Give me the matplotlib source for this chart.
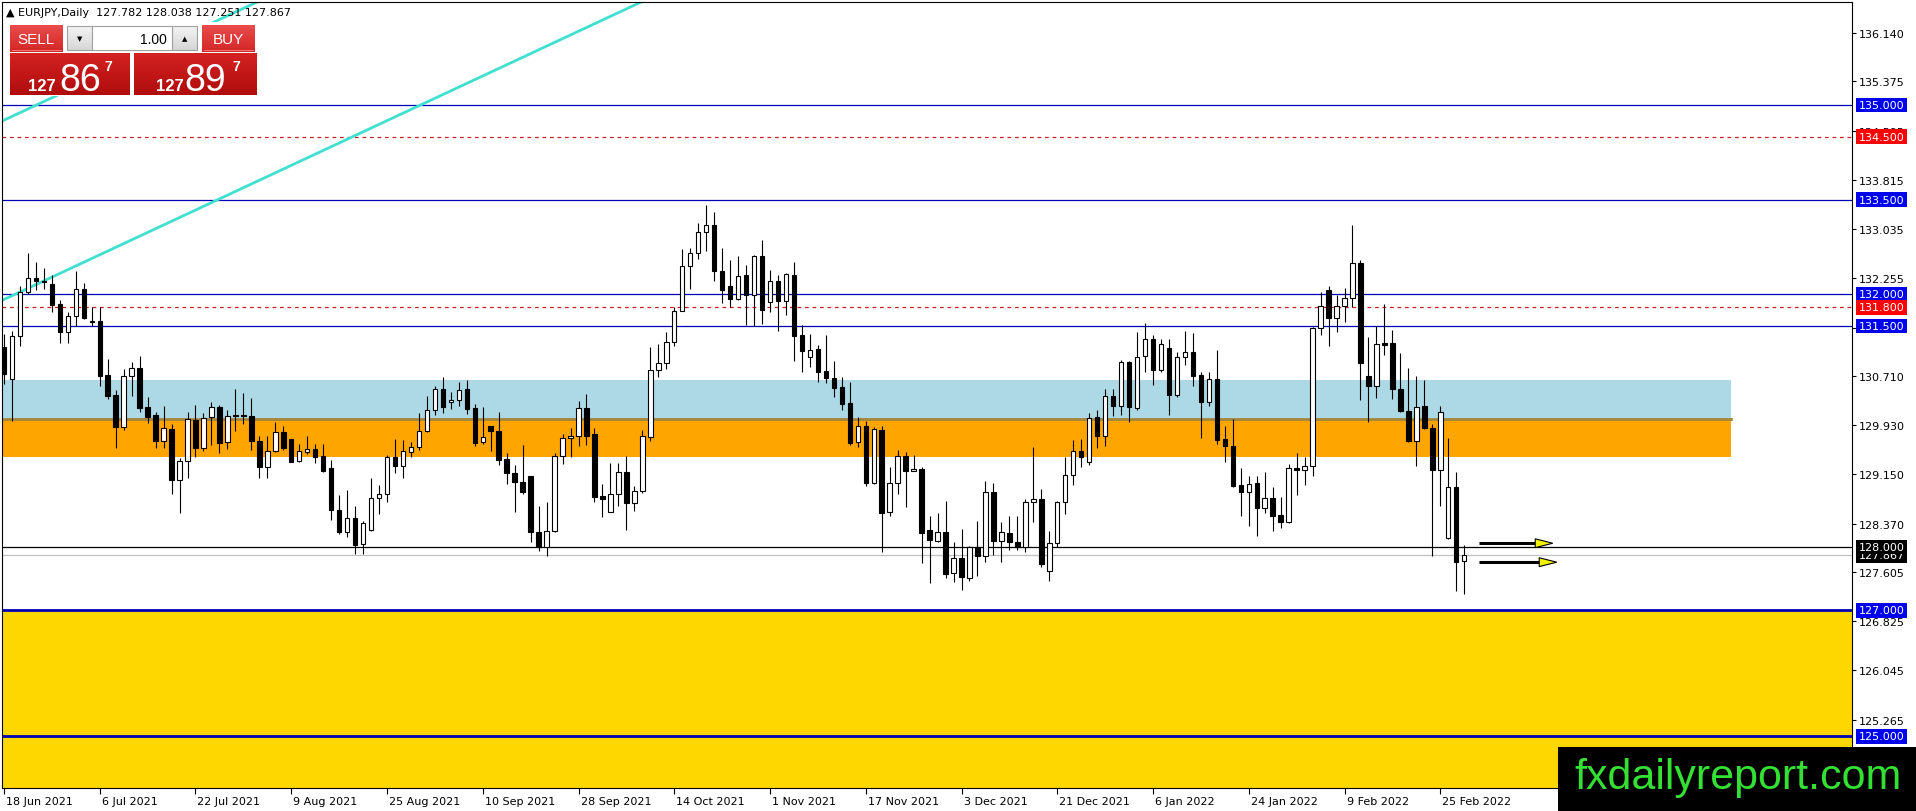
import numpy as np
import matplotlib.pyplot as plt
import matplotlib.transforms as mtransforms
from matplotlib import font_manager
from matplotlib.colors import LinearSegmentedColormap
from matplotlib.patches import Rectangle, Polygon

# daily EURJPY bars, bar 0 = 18 Jun 2021, last bar = 2 Mar 2022
opens = [131.163, 130.661, 131.337, 132.044, 132.255, 132.192, 132.160, 131.843, 131.400, 131.664,
         132.081, 131.580, 131.574, 130.725, 130.408, 129.907, 130.703, 130.830, 130.213, 130.086,
         129.674, 129.864, 129.067, 129.358, 130.012, 129.574, 130.054, 130.213, 129.658, 130.091,
         130.091, 130.075, 129.674, 129.273, 129.516, 129.822, 129.706, 129.358, 129.500, 129.548,
         129.437, 129.247, 128.582, 128.244, 128.455, 128.043, 128.276, 128.772, 128.835, 129.421,
         129.289, 129.500, 129.579, 129.833, 130.170, 130.503, 130.292, 130.329, 130.503, 130.197,
         129.659, 129.912, 129.838, 129.395, 129.168, 129.025, 129.125, 128.233, 127.996, 128.255,
         129.442, 129.732, 129.754, 130.197, 129.785, 128.803, 128.550, 128.840, 129.184, 128.693,
         128.883, 129.738, 130.809, 130.915, 131.242, 131.743, 132.450, 132.651, 132.984, 133.105,
         132.366, 132.128, 131.923, 132.308, 131.991, 132.609, 131.875, 132.218, 131.891, 132.308,
         131.358, 131.015, 131.136, 130.788, 130.672, 130.529, 130.276, 129.658, 129.912, 129.014,
         129.854, 128.561, 129.009, 129.437, 129.199, 129.231, 128.265, 128.101, 128.233, 127.584,
         127.822, 127.505, 127.996, 127.864, 128.867, 128.101, 128.218, 128.075, 127.996, 128.708,
         128.761, 127.616, 128.059, 128.708, 129.146, 129.516, 129.352, 130.054, 129.764, 130.397,
         130.239, 130.925, 130.207, 131.025, 131.289, 130.809, 131.147, 130.413, 131.004, 131.084,
         130.725, 130.292, 130.656, 129.711, 129.595, 128.983, 128.866, 129.009, 128.613, 128.772,
         128.508, 128.392, 129.247, 129.215, 129.289, 131.463, 132.070, 131.622, 131.822, 131.938,
         132.493, 130.704, 130.556, 131.226, 131.226, 130.498, 130.160, 129.685, 130.228, 129.891,
         129.226, 128.138, 128.946, 127.782]
highs = [131.374, 131.427, 132.139, 132.656, 132.519, 132.414, 132.308, 131.912, 131.717, 132.371,
         132.181, 131.796, 131.796, 130.978, 130.487, 130.820, 130.936, 131.020, 130.371, 130.134,
         130.239, 129.943, 129.416, 130.134, 130.250, 130.123, 130.292, 130.250, 130.176, 130.503,
         130.440, 130.355, 129.764, 129.753, 129.975, 129.912, 129.711, 129.627, 129.753, 129.637,
         129.637, 129.384, 128.825, 128.909, 128.656, 128.418, 129.088, 128.983, 129.463, 129.711,
         129.695, 129.669, 130.118, 130.397, 130.545, 130.698, 130.450, 130.619, 130.645, 130.260,
         130.213, 129.912, 130.134, 129.490, 129.300, 129.616, 129.131, 128.645, 128.719, 129.490,
         129.785, 129.880, 130.318, 130.418, 129.891, 128.999, 129.326, 129.326, 129.437, 128.972,
         129.854, 131.163, 131.216, 131.400, 131.806, 132.720, 132.735, 133.126, 133.416, 133.300,
         132.735, 132.545, 132.609, 132.466, 132.630, 132.862, 132.387, 132.308, 132.345, 132.508,
         131.522, 131.374, 131.200, 131.358, 130.952, 130.698, 130.608, 130.054, 130.001, 129.896,
         129.917, 129.263, 129.542, 129.511, 129.463, 129.263, 128.497, 128.534, 128.724, 128.086,
         128.286, 128.022, 128.407, 129.051, 129.009, 128.392, 128.497, 128.497, 128.761, 129.579,
         128.920, 128.260, 128.735, 129.421, 129.701, 129.711, 130.123, 130.170, 130.503, 130.503,
         130.967, 130.952, 131.400, 131.543, 131.358, 131.295, 131.295, 131.084, 131.421, 131.384,
         130.777, 130.777, 131.120, 129.922, 130.028, 129.247, 129.131, 129.131, 129.183, 128.946,
         128.788, 129.315, 129.490, 129.421, 131.479, 132.033, 132.129, 131.991, 132.097, 133.100,
         132.551, 131.332, 131.495, 131.849, 131.437, 131.073, 130.830, 130.714, 130.645, 129.949,
         130.239, 129.722, 129.183, 128.038]
lows = [130.582, 130.002, 131.178, 132.007, 132.076, 132.086, 131.717, 131.226, 131.226, 131.506,
        131.611, 131.506, 130.556, 130.345, 129.563, 129.859, 130.397, 130.144, 129.965, 129.563,
        129.574, 128.840, 128.540, 129.099, 129.421, 129.526, 129.621, 129.484, 129.553, 129.843,
        129.949, 129.542, 129.099, 129.088, 129.500, 129.542, 129.342, 129.342, 129.474, 129.331,
        129.183, 128.434, 128.202, 128.165, 127.885, 127.885, 128.260, 128.524, 128.708, 129.173,
        129.094, 129.432, 129.542, 129.817, 130.091, 130.123, 130.186, 130.239, 130.107, 129.606,
        129.627, 129.527, 129.305, 128.999, 128.550, 128.846, 128.086, 127.943, 127.864, 128.244,
        129.316, 129.421, 129.606, 129.616, 128.708, 128.482, 128.550, 128.645, 128.270, 128.577,
        128.856, 129.685, 130.688, 130.820, 131.189, 131.743, 132.086, 132.561, 132.683, 132.208,
        131.859, 131.806, 131.912, 131.522, 131.495, 131.532, 131.727, 131.416, 131.680, 130.952,
        130.777, 130.846, 130.619, 130.593, 130.382, 130.170, 129.621, 129.590, 128.972, 129.004,
        127.922, 128.497, 128.840, 128.640, 129.199, 127.743, 127.436, 128.075, 127.510, 127.442,
        127.326, 127.457, 127.547, 127.758, 127.880, 127.758, 127.953, 127.953, 127.917, 128.392,
        127.679, 127.457, 128.006, 128.524, 128.983, 129.263, 129.300, 129.563, 129.595, 130.070,
        130.091, 129.975, 130.176, 130.777, 130.571, 130.767, 130.097, 130.371, 130.888, 130.556,
        129.722, 130.239, 129.632, 129.342, 128.946, 128.497, 128.339, 128.181, 128.540, 128.260,
        128.297, 128.381, 128.824, 128.988, 129.131, 131.358, 131.189, 131.411, 131.569, 131.796,
        130.334, 129.986, 130.361, 131.047, 130.345, 130.133, 129.658, 129.289, 129.870, 127.864,
        128.656, 128.128, 127.310, 127.251]
closes = [130.740, 131.347, 132.044, 132.255, 132.218, 132.218, 131.838, 131.400, 131.664, 132.081,
          131.632, 131.558, 130.714, 130.387, 129.907, 130.703, 130.830, 130.207, 130.065, 129.674,
          129.880, 129.067, 129.358, 130.023, 129.569, 130.038, 130.213, 129.653, 130.081, 130.075,
          130.075, 129.674, 129.273, 129.516, 129.817, 129.569, 129.352, 129.516, 129.548, 129.431,
          129.210, 128.592, 128.244, 128.455, 128.038, 128.376, 128.772, 128.835, 129.421, 129.289,
          129.516, 129.590, 129.833, 130.170, 130.503, 130.223, 130.329, 130.492, 130.186, 129.648,
          129.738, 129.833, 129.384, 129.168, 129.025, 128.867, 128.233, 127.996, 128.255, 129.442,
          129.722, 129.754, 130.197, 129.764, 128.798, 128.756, 128.840, 129.184, 128.693, 128.883,
          129.754, 130.809, 130.915, 131.242, 131.743, 132.450, 132.651, 132.984, 133.105, 132.377,
          132.076, 131.923, 132.287, 131.991, 132.609, 131.754, 132.218, 131.891, 132.318, 131.347,
          131.110, 131.120, 130.777, 130.672, 130.524, 130.265, 129.648, 129.912, 129.014, 129.869,
          128.539, 129.009, 129.437, 129.199, 129.231, 128.228, 128.117, 128.233, 127.574, 127.822,
          127.521, 127.996, 127.864, 128.867, 128.101, 128.233, 128.075, 128.006, 128.708, 128.761,
          127.732, 128.059, 128.708, 129.146, 129.516, 129.421, 130.049, 129.764, 130.397, 130.239,
          130.925, 130.223, 131.004, 131.289, 130.809, 131.210, 130.413, 131.004, 131.084, 130.714,
          130.292, 130.656, 129.701, 129.595, 128.972, 128.877, 128.999, 128.613, 128.772, 128.497,
          128.392, 129.247, 129.215, 129.289, 131.463, 131.822, 131.622, 131.822, 131.938, 132.493,
          130.915, 130.556, 131.210, 131.205, 130.498, 130.160, 129.685, 130.223, 129.891, 129.226,
          130.133, 128.946, 127.769, 127.867]

date_labels = ['18 Jun 2021', '6 Jul 2021', '22 Jul 2021', '9 Aug 2021', '25 Aug 2021',
               '10 Sep 2021', '28 Sep 2021', '14 Oct 2021', '1 Nov 2021', '17 Nov 2021',
               '3 Dec 2021', '21 Dec 2021', '6 Jan 2022', '24 Jan 2022', '9 Feb 2022', '25 Feb 2022']
date_ticks = list(range(0, 12 * len(date_labels), 12))
price_ticks = [136.140, 135.375, 134.595, 133.815, 133.035, 132.255, 131.475, 130.710,
               129.930, 129.150, 128.370, 127.605, 126.825, 126.045, 125.265]

blue_levels = [135.0, 133.5, 132.0, 131.5]
thick_levels = [127.0, 125.0]
red_levels = [134.5, 131.8]
black_level = 128.0
last_price = 127.867
blue_zone = (130.03, 130.645)
orange_zone = (129.43, 130.03)
yellow_top = 127.0
trend_bases = [134.76, 131.92]   # value at bar 0
trend_slope = 0.059              # per bar
arrow_prices = [128.06, 127.76]
header = '\u25b2 EURJPY,Daily  127.782 128.038 127.251 127.867'

names = {f.name for f in font_manager.fontManager.ttflist}
has_narrow = 'Liberation Sans Narrow' in names
narrow = 'Liberation Sans Narrow' if has_narrow else 'Liberation Sans'
big_size = 32 if has_narrow else 27

W, H = 1916, 812
fig = plt.figure(figsize=(W / 100, H / 100), dpi=100)
fig.patch.set_facecolor('white')
ax = fig.add_axes([2 / W, 23 / H, 1850 / W, 786 / H])
ax.set_xlim(-0.25, 231.6)
ax.set_ylim(124.184, 136.631)

# zones
ax.axhspan(120, yellow_top, color='#ffd700', zorder=0.5, lw=0)
ax.add_patch(Rectangle((-5, blue_zone[0]), 221.4, blue_zone[1] - blue_zone[0],
                       fc='#add8e6', ec='none', zorder=0.6))
ax.add_patch(Rectangle((-5, orange_zone[0]), 221.4, orange_zone[1] - orange_zone[0],
                       fc='#ffa500', ec='none', zorder=0.6))
ax.plot([-5, 216.4], [orange_zone[1]] * 2, color='#a3853c', lw=2, zorder=0.7)

# levels
for lv in blue_levels:
    ax.axhline(lv, color='#0000b4', lw=0.9, zorder=1)
for lv in thick_levels:
    ax.axhline(lv, color='#0000b4', lw=2.0, zorder=1)
for lv in red_levels:
    ax.axhline(lv, color='#cc2020', lw=0.9, ls=(0, (3, 3)), zorder=1)
ax.axhline(last_price, color='#c0c0c0', lw=0.9, zorder=1)
ax.axhline(black_level, color='black', lw=0.9, zorder=1.1)

# trend lines
tx = np.array([-2, 120])
for b in trend_bases:
    ax.plot(tx, b + trend_slope * tx, color='#40e0d0', lw=2.0, zorder=1.5)

# candles
o = np.array(opens); h = np.array(highs); l = np.array(lows); c = np.array(closes)
idx = np.arange(len(o))
up = c >= o
ax.vlines(idx, l, h, color='black', lw=0.8, zorder=3)
body_lo = np.minimum(o, c)
body_h = np.maximum(np.abs(c - o), 0.012)
ax.bar(idx, body_h, bottom=body_lo, width=0.56, color=np.where(up, 'white', 'black'),
       edgecolor='black', linewidth=0.8, zorder=4)

# arrows
n = len(o)
for p, tip in zip(arrow_prices, [n + 10.1, n + 10.6]):
    ax.plot([n + 0.8, tip - 1.5], [p, p], color='black', lw=2.2, zorder=5, solid_capstyle='butt')
    ax.add_patch(Polygon([[tip - 2.2, p + 0.07], [tip, p], [tip - 2.2, p - 0.07]],
                         closed=True, fc='#f0f000', ec='black', lw=0.8, zorder=6))

# axes styling
for s in ax.spines.values():
    s.set_color('black')
    s.set_linewidth(0.8)
ax.yaxis.tick_right()
ax.set_yticks(price_ticks)
ax.set_yticklabels([f'{t:.3f}' for t in price_ticks])
ax.tick_params(axis='y', length=3, width=0.8, pad=2, labelsize=8, colors='black')
ax.set_xticks(date_ticks)
ax.set_xticklabels(date_labels, ha='left')
ax.tick_params(axis='x', length=4, width=0.8, pad=2, labelsize=8)
off = mtransforms.ScaledTranslation(2 / 100, 0, fig.dpi_scale_trans)
for lbl in ax.get_xticklabels():
    lbl.set_transform(lbl.get_transform() + off)

# price tags on the right scale
trans = mtransforms.blended_transform_factory(ax.transAxes, ax.transData)
tags = [(last_price, 'black')] + [(lv, '#0000f0') for lv in blue_levels + thick_levels] + \
       [(lv, '#ff0000') for lv in red_levels] + [(black_level, 'black')]
for k, (lv, fc) in enumerate(tags):
    ax.text(1.0035, lv, f'{lv:.3f}', transform=trans, ha='left', va='center', fontsize=8,
            color='white', clip_on=False, zorder=10 + k,
            bbox=dict(boxstyle='square,pad=0.22', fc=fc, ec='none'))

# overlay: header, trade panel, watermark
ov = fig.add_axes([0, 0, 1, 1], zorder=5)
ov.axis('off')


def grad_box(x0, y0, x1, y1, top, bottom, ec=None):
    cmap = LinearSegmentedColormap.from_list('g', [top, bottom])
    ov.imshow(np.linspace(0, 1, 64).reshape(-1, 1), cmap=cmap, extent=[x0, x1, y1, y0],
              aspect='auto', zorder=2, interpolation='bilinear')
    if ec:
        ov.add_patch(Rectangle((x0, y0), x1 - x0, y1 - y0, fc='none', ec=ec, lw=0.8, zorder=3))


ov.text(6, 13, header, fontsize=8, va='center', ha='left', color='black')
ov.add_patch(Rectangle((6, 23), 253, 74, fc='white', ec='none', zorder=1))
grad_box(10, 26, 63, 53, '#ea4c4c', '#d42626')
grad_box(202, 26, 255, 53, '#ea4c4c', '#d42626')
grad_box(67, 27, 92, 51, '#f4f4f4', '#d6d6d6', ec='#a0a0a0')
grad_box(172, 27, 197, 51, '#f4f4f4', '#d6d6d6', ec='#a0a0a0')
ov.add_patch(Rectangle((92, 27), 80, 24, fc='white', ec='#a0a0a0', lw=0.8, zorder=3))
grad_box(10, 54, 130, 96, '#d42222', '#b00c0c')
grad_box(134, 54, 257, 96, '#d42222', '#b00c0c')
ov.plot([12, 61], [51, 51], color='#f08888', lw=0.6, zorder=4)
ov.plot([204, 253], [51, 51], color='#f08888', lw=0.6, zorder=4)
ov.text(36, 39.5, 'SELL', family=narrow, fontsize=11, color='white', ha='center', va='center', zorder=5)
ov.text(228, 39.5, 'BUY', family=narrow, fontsize=11, color='white', ha='center', va='center', zorder=5)
ov.text(79.5, 39, '\u25bc', fontsize=5, ha='center', va='center', zorder=5)
ov.text(184.5, 39, '\u25b2', fontsize=5, ha='center', va='center', zorder=5)
ov.text(167, 39.5, '1.00', family='Liberation Sans', fontsize=10, ha='right', va='center', zorder=5)
for x127, xbig, xsup, big in [(28, 59, 104, '86'), (156, 184, 232, '89')]:
    ov.text(x127, 91, '127', family='Liberation Sans', fontsize=12, fontweight='bold',
            color='white', ha='left', va='baseline', zorder=5)
    ov.text(xbig, 91, big, family=narrow, fontsize=big_size, color='white', ha='left',
            va='baseline', zorder=5)
    ov.text(xsup, 60, '7', family='Liberation Sans', fontsize=10, fontweight='bold',
            color='white', ha='left', va='top', zorder=5)

ov.add_patch(Rectangle((1558, 748), 358, 64, fc='black', ec='none', zorder=20))
ov.text(1738, 778, 'fxdailyreport.com', family='Liberation Sans', fontsize=31,
        color='#33e033', ha='center', va='center', zorder=21)
ov.set_xlim(0, W)
ov.set_ylim(H, 0)

fig.savefig('out.png', dpi=100)
